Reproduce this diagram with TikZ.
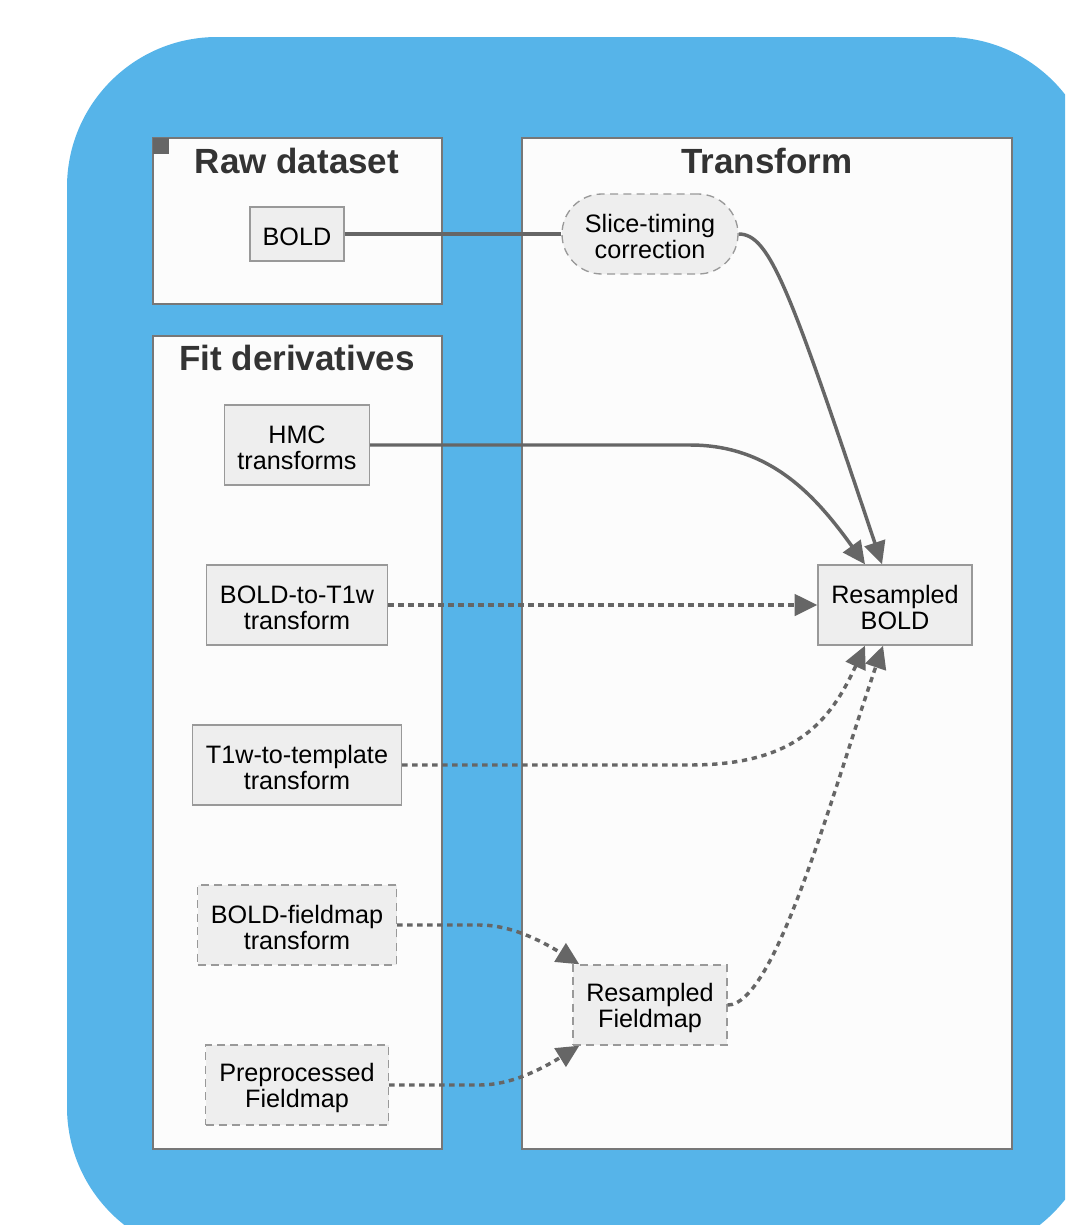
\documentclass[tikz,border=0pt]{standalone}
\usepackage{fontspec}
\setmainfont{Liberation Sans}
\usetikzlibrary{arrows.meta}
\newdimen\pxu \pxu=0.75pt
% strut that drops the label a little inside its box
\newcommand\droptext{\rule{0pt}{18pt}}
\definecolor{skyblue}{HTML}{56B4E9}
\definecolor{clusterfill}{HTML}{FCFCFC}
\definecolor{clusterline}{HTML}{777777}
\definecolor{boxfill}{HTML}{EEEEEE}
\definecolor{boxline}{HTML}{999999}
\definecolor{edgecol}{HTML}{666666}
\definecolor{titlecol}{HTML}{333333}
\tikzset{
  cluster/.style={draw=clusterline, fill=clusterfill, line width=1.2pt},
  clustertitle/.style={anchor=base, text=titlecol, inner sep=0pt,
    font=\fontsize{26.25}{28}\selectfont\bfseries},
  stepbox/.style={draw=boxline, fill=boxfill, line width=1pt, align=center,
    inner sep=0pt, minimum height=80\pxu,
    font=\fontsize{18.9}{19.5}\selectfont},
  optbox/.style={stepbox, dash pattern=on 6pt off 4pt},
  link/.style={draw=edgecol, line width=2.6pt},
  flow/.style={link, -{Triangle[length=17pt,width=16pt]}},
  optflow/.style={flow, dash pattern=on 4pt off 3.5pt},
}
\begin{document}
\begin{tikzpicture}[x=0.75pt, y=-0.75pt]
\useasboundingbox (0,0) rectangle (1065,1225);

% blue backdrop
\begin{scope}
  \clip (0,0) rectangle (1065,1225);
  \fill[skyblue, rounded corners=112.5pt] (67,37) rectangle (1097,1257);
\end{scope}

% clusters
\draw[cluster] (153,138) rectangle (442,304);
\fill[edgecol] (153,138) rectangle (169,154);
\draw[cluster] (153,336) rectangle (442,1149);
\draw[cluster] (522,138) rectangle (1012,1149);

\node[clustertitle] (rawtitle) at (297,173) {Raw dataset};
\node[clustertitle] (fittitle) at (297,370) {Fit derivatives};
\node[clustertitle] (xfmtitle) at (767,173) {Transform};

% nodes
\node[stepbox, minimum width=94\pxu, minimum height=54\pxu] (bold) at (297,234) {\droptext BOLD};
\node[optbox, minimum width=176\pxu, rounded corners=30pt] (slice) at (650,234) {\droptext Slice-timing\\correction};
\node[stepbox, minimum width=145\pxu] (hmc) at (297,445) {\droptext HMC\\transforms};
\node[stepbox, minimum width=181\pxu] (b2t) at (297,605) {\droptext BOLD-to-T1w\\transform};
\node[stepbox, minimum width=209\pxu] (t2tpl) at (297,765) {\droptext T1w-to-template\\transform};
\node[optbox, minimum width=199\pxu] (b2fmap) at (297,925) {\droptext BOLD-fieldmap\\transform};
\node[optbox, minimum width=183\pxu] (prepfmap) at (297,1085) {\droptext Preprocessed\\Fieldmap};
\node[stepbox, minimum width=154\pxu] (rbold) at (895,605) {\droptext Resampled\\BOLD};
\node[optbox, minimum width=154\pxu] (rfmap) at (650,1005) {\droptext Resampled\\Fieldmap};

% connectors
\draw[link] (bold.east) -- (slice.west);
\draw[flow] (slice.east) .. controls (770,234) and (790,290) .. ([xshift=-13\pxu]rbold.north);
\draw[flow] (hmc.east) -- (690,445) .. controls (770,445) and (815,495) .. ([xshift=-30\pxu]rbold.north);
\draw[optflow] (b2t.east) -- (rbold.west);
\draw[optflow] (t2tpl.east) -- (690,765) .. controls (795,765) and (830,722) .. ([xshift=-30\pxu]rbold.south);
\draw[optflow] (rfmap.east) .. controls (775,1005) and (830,800) .. ([xshift=-12\pxu]rbold.south);
\draw[optflow] (b2fmap.east) -- (480,925) .. controls (510,925) and (540,940) .. ([xshift=7\pxu]rfmap.north west);
\draw[optflow] (prepfmap.east) -- (480,1085) .. controls (510,1085) and (540,1070) .. ([xshift=7\pxu]rfmap.south west);
\end{tikzpicture}
\end{document}
